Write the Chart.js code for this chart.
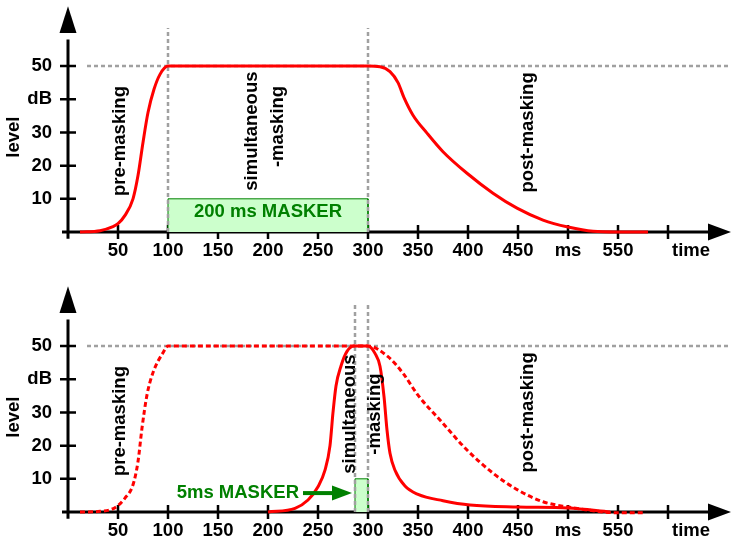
<!DOCTYPE html>
<html>
<head>
<meta charset="utf-8">
<script src="https://cdn.jsdelivr.net/npm/chart.js@4.4.1/dist/chart.umd.min.js"></script>
<style>
  body { margin: 0; background: #fff; }
  canvas { position: absolute; left: 0; }
  #chartTop { top: 0; }
  #chartBottom { top: 280px; }
</style>
</head>
<body>
<canvas id="chartTop" width="731" height="261"></canvas>
<canvas id="chartBottom" width="731" height="261"></canvas>
<script>
// axis ticks
const xTickValues = [50, 100, 150, 200, 250, 300, 350, 400, 450, 500, 550, 600];
const xLabelValues = [50, 100, 150, 200, 250, 300, 350, 400, 450, 500, 550, 623];
const xLabels = ['50', '100', '150', '200', '250', '300', '350', '400', '450', 'ms', '550', 'time'];
const yTickValues = [10, 20, 30, 40, 50];
const yLabels = ['10', '20', '30', 'dB', '50'];

// 200 ms masker: threshold curve (ms, dB)
const maskTimes = [12, 32, 45, 50, 57, 65, 70, 75, 80, 86, 92, 100, 300, 312, 322, 330, 336, 345, 359, 375, 399, 425, 449, 475, 500, 525, 549, 580];
const maskLevels = [0, 0.4, 1.6, 2.5, 5, 10, 17, 27, 36, 43, 47.5, 50, 50, 49.8, 48.3, 45, 40.5, 35.2, 29.8, 24.2, 17.7, 11.7, 7.2, 3.6, 1.5, 0.2, 0, 0];

// same curve repeated as a reference in the lower panel
const ghostTimes = [12, 32, 47, 57, 65, 70, 74, 79, 85, 95, 100, 300, 320, 335, 350, 372, 399, 425, 450, 475, 500, 525, 545, 575];
const ghostLevels = [0, 0.2, 1.3, 4.2, 8.2, 15.2, 25.3, 35.3, 42, 48, 50, 50, 46.8, 41.8, 35.2, 27.7, 18.7, 11.7, 6.6, 3.1, 1.5, 0.4, -0.2, -0.2];

// 5 ms masker: threshold curve
const shortTimes = [200, 227, 240, 250, 257, 262, 265, 268, 273, 279, 286, 300, 307, 312, 316, 319, 322, 327, 337, 350, 375, 402, 450, 500, 542];
const shortLevels = [0, 1.1, 3.6, 7.6, 12.6, 20, 30, 38, 44, 48.4, 50, 50, 47.8, 43.9, 34.8, 24.7, 17.7, 12.6, 7.8, 5.3, 3.4, 2.1, 1.5, 1.2, 0];

// masker bursts [start, end, level]
const longMasker = [100, 300, 10];
const shortMasker = [287, 300, 10];

const RED = '#ff0000';
const GRAY = '#a0a0a0';
const GREEN = '#008000';
const FONT = 'bold 18.5px "Liberation Sans", Arial, sans-serif';

Chart.defaults.font.family = '"Liberation Sans", Arial, sans-serif';
Chart.defaults.font.weight = 'bold';
Chart.defaults.font.size = 18.5;
Chart.defaults.color = '#000';

const pts = (xs, ys) => xs.map((x, i) => ({x: x, y: ys[i]}));

function curve(xs, ys, dashed) {
  return {
    data: pts(xs, ys),
    borderColor: RED,
    borderWidth: 3,
    borderDash: dashed ? [5, 3] : [],
    pointRadius: 0,
    cubicInterpolationMode: 'monotone',
    fill: false,
    clip: false
  };
}

function guide(xs, ys) {
  return {
    data: pts(xs, ys),
    borderColor: GRAY,
    borderWidth: 2.5,
    borderDash: [4, 3],
    pointRadius: 0,
    fill: false,
    clip: false
  };
}

function burst(m) {
  return {
    data: pts([m[0], m[0], m[1], m[1]], [0, m[2], m[2], 0]),
    borderColor: GREEN,
    borderWidth: 1,
    backgroundColor: '#ccffcc',
    pointRadius: 0,
    fill: 'origin',
    clip: false
  };
}

// axes with arrow heads and ticks crossing the line
const arrowAxes = {
  id: 'arrowAxes',
  beforeDatasetsDraw(chart) {
    const {ctx, scales: {x, y}} = chart;
    const x0 = x.getPixelForValue(0), y0 = y.getPixelForValue(0);
    ctx.save();
    ctx.strokeStyle = '#000';
    ctx.fillStyle = '#000';
    ctx.lineWidth = 3;
    ctx.beginPath();
    ctx.moveTo(x.getPixelForValue(-6), y0);
    ctx.lineTo(x.getPixelForValue(645), y0);
    ctx.moveTo(x0, y.getPixelForValue(-2));
    ctx.lineTo(x0, y.getPixelForValue(58));
    ctx.stroke();

    const xb = x.getPixelForValue(640), xt = x.getPixelForValue(663);
    ctx.beginPath();
    ctx.moveTo(xt, y0);
    ctx.lineTo(xb, y0 - 8.5);
    ctx.lineTo(xb, y0 + 8.5);
    ctx.closePath();
    ctx.fill();
    const yb = y.getPixelForValue(60), yt = y.getPixelForValue(68);
    ctx.beginPath();
    ctx.moveTo(x0, yt);
    ctx.lineTo(x0 - 8.5, yb);
    ctx.lineTo(x0 + 8.5, yb);
    ctx.closePath();
    ctx.fill();

    ctx.lineWidth = 2.5;
    ctx.beginPath();
    xTickValues.forEach(v => {
      const px = x.getPixelForValue(v);
      ctx.moveTo(px, y0 - 7);
      ctx.lineTo(px, y0 + 7);
    });
    yTickValues.forEach(v => {
      const py = y.getPixelForValue(v);
      ctx.moveTo(x0 - 8, py);
      ctx.lineTo(x0 + 8, py);
    });
    ctx.stroke();
    ctx.restore();
  }
};

// text annotations and the masker pointer
const notes = {
  id: 'notes',
  afterDatasetsDraw(chart, args, opts) {
    const {ctx, scales: {x, y}} = chart;
    ctx.save();
    ctx.font = FONT;
    ctx.textAlign = 'center';
    ctx.textBaseline = 'middle';
    (opts.vertical || []).forEach(n => {
      ctx.save();
      ctx.translate(x.getPixelForValue(n.x), y.getPixelForValue(n.y));
      ctx.rotate(-Math.PI / 2);
      ctx.fillStyle = '#000';
      ctx.fillText(n.text, 0, 0);
      ctx.restore();
    });
    (opts.flat || []).forEach(n => {
      ctx.fillStyle = n.color;
      ctx.textAlign = n.align || 'center';
      ctx.fillText(n.text, x.getPixelForValue(n.x), y.getPixelForValue(n.y));
    });
    if (opts.pointer) {
      const p = opts.pointer;
      const py = y.getPixelForValue(p.y);
      const a = x.getPixelForValue(p.from), b = x.getPixelForValue(p.head), c = x.getPixelForValue(p.to);
      ctx.fillStyle = GREEN;
      ctx.strokeStyle = GREEN;
      ctx.lineWidth = 4;
      ctx.beginPath();
      ctx.moveTo(a, py);
      ctx.lineTo(b + 2, py);
      ctx.stroke();
      ctx.beginPath();
      ctx.moveTo(c, py);
      ctx.lineTo(b, py - 7.5);
      ctx.lineTo(b, py + 7.5);
      ctx.closePath();
      ctx.fill();
    }
    ctx.restore();
  }
};

function makeChart(id, datasets, noteOpts) {
  return new Chart(document.getElementById(id), {
    type: 'line',
    data: {datasets: datasets},
    options: {
      responsive: false,
      animation: false,
      events: [],
      layout: {padding: {top: 8, right: 3, left: 0, bottom: 0}},
      plugins: {
        legend: {display: false},
        tooltip: {enabled: false},
        notes: noteOpts
      },
      scales: {
        x: {
          type: 'linear',
          min: 0,
          max: 660,
          grid: {display: false, drawTicks: false},
          border: {display: false},
          afterBuildTicks: s => { s.ticks = xLabelValues.map(v => ({value: v})); },
          afterFit: s => { s.height = 29; s.paddingLeft = 0; s.paddingRight = 0; },
          ticks: {
            autoSkip: false,
            maxRotation: 0,
            padding: 8,
            color: '#000',
            callback: v => xLabels[xLabelValues.indexOf(v)]
          }
        },
        y: {
          type: 'linear',
          min: 0,
          max: 67.5,
          grid: {display: false, drawTicks: false},
          border: {display: false},
          afterBuildTicks: s => { s.ticks = yTickValues.map(v => ({value: v})); },
          afterFit: s => { s.width = 68; s.paddingTop = 0; s.paddingBottom = 0; },
          ticks: {
            padding: 16,
            color: '#000',
            callback: v => yLabels[yTickValues.indexOf(v)]
          }
        }
      }
    },
    plugins: [arrowAxes, notes]
  });
}

const level = {x: -54, y: 28.6, text: 'level'};

const topChart = makeChart('chartTop', [
  curve(maskTimes, maskLevels, false),
  guide([19, 663], [50, 50]),
  guide([longMasker[0], longMasker[0]], [0, 61.5]),
  guide([longMasker[1], longMasker[1]], [0, 61.5]),
  burst(longMasker)
], {
  vertical: [
    level,
    {x: 52, y: 27.4, text: 'pre-masking'},
    {x: 184, y: 30.4, text: 'simultaneous'},
    {x: 210, y: 31.8, text: '-masking'},
    {x: 460, y: 30, text: 'post-masking'}
  ],
  flat: [
    {x: 200, y: 6.2, text: '200 ms MASKER', color: GREEN}
  ]
});

const bottomChart = makeChart('chartBottom', [
  curve(shortTimes, shortLevels, false),
  curve(ghostTimes, ghostLevels, true),
  guide([19, 663], [50, 50]),
  guide([shortMasker[0], shortMasker[0]], [0, 62.5]),
  guide([shortMasker[1], shortMasker[1]], [0, 62.5]),
  burst(shortMasker)
], {
  vertical: [
    level,
    {x: 52, y: 27.4, text: 'pre-masking'},
    {x: 282, y: 29.5, text: 'simultaneous'},
    {x: 307, y: 29.5, text: '-masking'},
    {x: 460, y: 30, text: 'post-masking'}
  ],
  flat: [
    {x: 231, y: 5.7, text: '5ms MASKER', color: GREEN, align: 'right'}
  ],
  pointer: {from: 235, head: 264, to: 284, y: 5.7}
});
</script>
</body>
</html>
